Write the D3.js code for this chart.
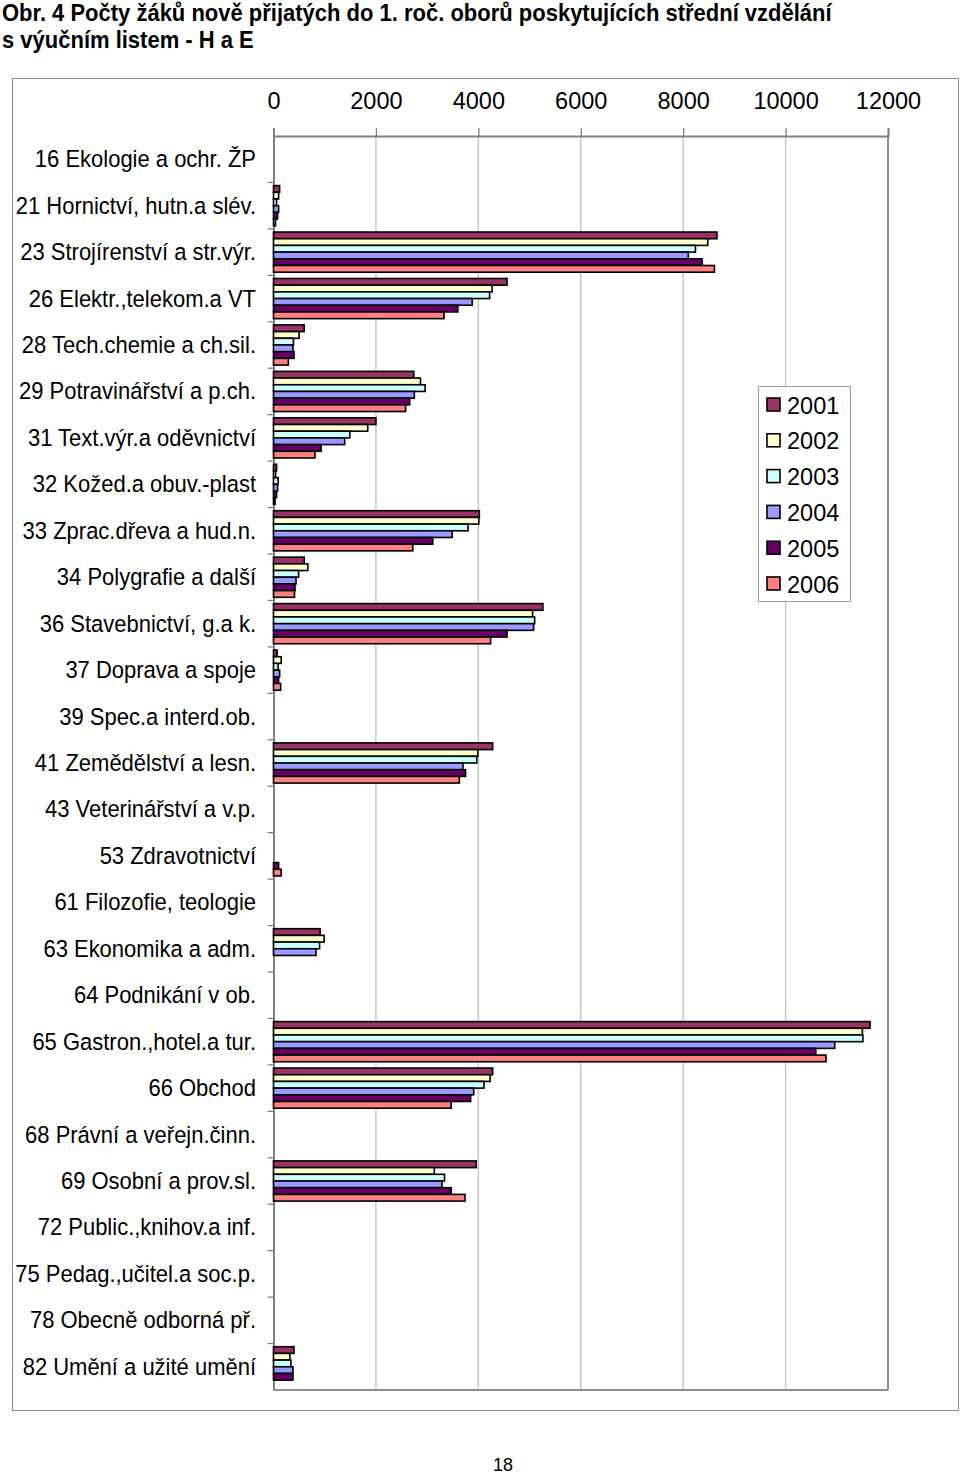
<!DOCTYPE html>
<html>
<head>
<meta charset="utf-8">
<script src="https://cdn.jsdelivr.net/npm/d3@7"></script>
<style>
  html, body { margin: 0; padding: 0; background: #fff; }
  svg { display: block; }
  text { font-family: "Liberation Sans", Arial, sans-serif; fill: #000; }
</style>
</head>
<body>
<svg id="chart" width="960" height="1475"></svg>
<script>
const categories = [
  "16 Ekologie a ochr. ŽP",
  "21 Hornictví, hutn.a slév.",
  "23 Strojírenství a str.výr.",
  "26 Elektr.,telekom.a VT",
  "28 Tech.chemie a ch.sil.",
  "29 Potravinářství a p.ch.",
  "31 Text.výr.a oděvnictví",
  "32 Kožed.a obuv.-plast",
  "33 Zprac.dřeva a hud.n.",
  "34 Polygrafie a další",
  "36 Stavebnictví, g.a k.",
  "37 Doprava a spoje",
  "39 Spec.a interd.ob.",
  "41 Zemědělství a lesn.",
  "43 Veterinářství a v.p.",
  "53 Zdravotnictví",
  "61 Filozofie, teologie",
  "63 Ekonomika a adm.",
  "64 Podnikání v ob.",
  "65 Gastron.,hotel.a tur.",
  "66 Obchod",
  "68 Právní a veřejn.činn.",
  "69 Osobní a prov.sl.",
  "72 Public.,knihov.a inf.",
  "75 Pedag.,učitel.a soc.p.",
  "78 Obecně odborná př.",
  "82 Umění a užité umění"
];
const years = ["2001", "2002", "2003", "2004", "2005", "2006"];
const colors = ["#993366", "#FFFFCC", "#CCFFFF", "#9999FF", "#660066", "#FF8080"];

const v2001 = [0, 120, 8660, 4560, 600, 2740, 2000, 60, 4020, 600, 5260, 70, 0, 4280, 0, 0, 0, 910, 0, 11650, 4280, 0, 3960, 0, 0, 0, 400];
const v2002 = [0, 100, 8480, 4270, 500, 2870, 1840, 40, 4010, 670, 5060, 150, 0, 3990, 0, 0, 0, 990, 0, 11500, 4230, 0, 3140, 0, 0, 0, 320];
const v2003 = [0, 60, 8240, 4220, 390, 2960, 1490, 90, 3800, 490, 5100, 90, 0, 3970, 0, 0, 0, 900, 0, 11510, 4110, 0, 3340, 0, 0, 0, 340];
const v2004 = [0, 100, 8100, 3880, 380, 2750, 1390, 80, 3490, 440, 5080, 120, 0, 3700, 0, 0, 0, 830, 0, 10960, 3910, 0, 3290, 0, 0, 0, 380];
const v2005 = [0, 80, 8370, 3600, 400, 2660, 930, 60, 3110, 420, 4560, 100, 0, 3750, 0, 100, 0, 0, 0, 10590, 3850, 0, 3470, 0, 0, 0, 380];
const v2006 = [0, 40, 8610, 3330, 290, 2580, 810, 30, 2720, 410, 4240, 140, 0, 3630, 0, 150, 0, 0, 0, 10790, 3470, 0, 3740, 0, 0, 0, 0];
const seriesValues = [v2001, v2002, v2003, v2004, v2005, v2006];
const xTicks = [0, 2000, 4000, 6000, 8000, 10000, 12000];

const svg = d3.select("#chart");

// Title (slightly stretched vertically like the reference)
svg.append("text").attr("transform", "translate(2,21) scale(1,1.12)")
  .attr("font-size", 22).attr("font-weight", "bold")
  .text("Obr. 4  Počty žáků nově přijatých do 1. roč. oborů poskytujících střední vzdělání");
svg.append("text").attr("transform", "translate(2,48) scale(1,1.12)")
  .attr("font-size", 22).attr("font-weight", "bold")
  .text("s výučním listem - H a E");

// Outer frame
svg.append("rect").attr("x", 12.5).attr("y", 78.5).attr("width", 946).attr("height", 1332)
  .attr("fill", "none").attr("stroke", "#909090").attr("stroke-width", 1);

const plot = { left: 273.5, right: 888, top: 136, bottom: 1390 };

const x = d3.scaleLinear().domain([0, 12000]).range([plot.left, plot.right]);
const y0 = d3.scaleBand().domain(categories).range([plot.top, plot.bottom]).padding(0);
const y1 = d3.scaleBand().domain(years).range([0, y0.bandwidth()]).paddingInner(0).paddingOuter(0.47);

// Gridlines
svg.append("g").selectAll("line").data(xTicks.slice(1, -1)).join("line")
  .attr("x1", d => x(d)).attr("x2", d => x(d))
  .attr("y1", plot.top).attr("y2", plot.bottom)
  .attr("stroke", "#c0c0c0").attr("stroke-width", 1.3);

// Plot border right and bottom
svg.append("line").attr("x1", plot.right).attr("x2", plot.right).attr("y1", plot.top).attr("y2", plot.bottom)
  .attr("stroke", "#909090").attr("stroke-width", 2);
svg.append("line").attr("x1", plot.left).attr("x2", plot.right).attr("y1", plot.bottom).attr("y2", plot.bottom)
  .attr("stroke", "#909090").attr("stroke-width", 2);

// Top axis
const xAxis = d3.axisTop(x).tickValues(xTicks).tickSize(8).tickPadding(19).tickFormat(d3.format("d"));
const gx = svg.append("g").attr("transform", `translate(0,${plot.top})`).call(xAxis);
gx.select(".domain").attr("stroke", "#808080").attr("stroke-width", 2);
gx.selectAll(".tick line").attr("stroke", "#808080").attr("stroke-width", 1.3);
gx.selectAll(".tick text").attr("font-size", 23.5).attr("font-family", "'Liberation Sans', Arial, sans-serif").attr("fill", "#000");

// Left axis
const yAxis = d3.axisLeft(y0).tickSize(6).tickPadding(11.5).tickSizeOuter(0);
const gy = svg.append("g").attr("transform", `translate(${plot.left},0)`).call(yAxis);
gy.select(".domain").attr("stroke", "#808080").attr("stroke-width", 2);
gy.selectAll(".tick line").remove();
gy.selectAll(".tick text")
  .attr("font-size", 22)
  .attr("font-family", "'Liberation Sans', Arial, sans-serif")
  .attr("fill", "#000")
  .attr("dy", null)
  .attr("transform", function() {
    const tx = +d3.select(this).attr("x");
    d3.select(this).attr("x", 0);
    return `translate(${tx},8) scale(1,1.08)`;
  });
// category boundary ticks
svg.append("g").selectAll("line").data(categories.slice(1)).join("line")
  .attr("x1", plot.left - 6).attr("x2", plot.left)
  .attr("y1", d => y0(d)).attr("y2", d => y0(d))
  .attr("stroke", "#808080").attr("stroke-width", 1.3);

// Bars
const groups = svg.append("g").selectAll("g").data(categories).join("g")
  .attr("transform", d => `translate(0,${y0(d)})`);
groups.selectAll("rect")
  .data((c, i) => years.map((yr, s) => ({ yr, s, v: seriesValues[s][i] })).filter(d => d.v > 0))
  .join("rect")
  .attr("x", x(0))
  .attr("y", d => y1(d.yr))
  .attr("width", d => x(d.v) - x(0))
  .attr("height", y1.bandwidth())
  .attr("fill", d => colors[d.s])
  .attr("stroke", "#000")
  .attr("stroke-width", 1.6);

// Legend
const lg = svg.append("g");
lg.append("rect").attr("x", 758.5).attr("y", 386.5).attr("width", 92).attr("height", 215)
  .attr("fill", "#fff").attr("stroke", "#a0a0a0").attr("stroke-width", 1);
const ly = d3.scalePoint().domain(years).range([405, 584]);
const items = lg.selectAll("g.item").data(years).join("g").attr("class", "item")
  .attr("transform", d => `translate(0,${ly(d)})`);
items.append("rect").attr("x", 767).attr("y", -7).attr("width", 13).attr("height", 13)
  .attr("fill", (d, i) => colors[i]).attr("stroke", "#000").attr("stroke-width", 1.6);
items.append("text").attr("x", 787).attr("y", 8.5).attr("font-size", 23.5).text(d => d);

// Page number
svg.append("text").attr("x", 503).attr("y", 1471).attr("text-anchor", "middle")
  .attr("font-size", 18).text("18");
</script>
</body>
</html>
